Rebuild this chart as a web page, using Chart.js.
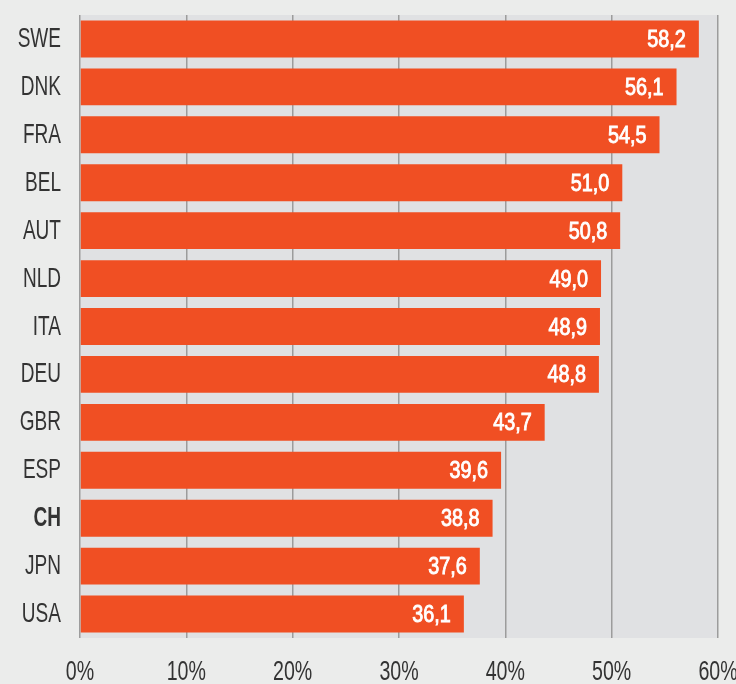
<!DOCTYPE html>
<html>
<head>
<meta charset="utf-8">
<script src="https://cdn.jsdelivr.net/npm/chart.js@4"></script>
<style>
  html, body { margin: 0; padding: 0; background: #ebeceb; overflow: hidden; }
  #wrap { width: 736px; height: 684px; }
</style>
</head>
<body>
<div id="wrap"><canvas id="chart"></canvas></div>
<script>
// country codes and share values (%)
const countries = ['SWE', 'DNK', 'FRA', 'BEL', 'AUT', 'NLD', 'ITA', 'DEU', 'GBR', 'ESP', 'CH', 'JPN', 'USA'];
const values = [58.2, 56.1, 54.5, 51.0, 50.8, 49.0, 48.9, 48.8, 43.7, 39.6, 38.8, 37.6, 36.1];
const xTicks = [0, 10, 20, 30, 40, 50, 60];

const fontFam = "'Liberation Sans', Arial, sans-serif";

// condensed text: squeeze horizontally around the anchor point
function narrowText(ctx, txt, x, y, sx, stroke) {
    ctx.save();
    ctx.translate(x, y);
    ctx.scale(sx, 1);
    ctx.fillText(txt, 0, 0);
    if (stroke) ctx.strokeText(txt, 0, 0);
    ctx.restore();
}

// light grey plot background
const plotBg = {
    id: 'plotBg',
    beforeDraw(chart) {
        const {ctx, chartArea: a} = chart;
        ctx.save();
        ctx.fillStyle = '#e0e1e3';
        ctx.fillRect(a.left, a.top, a.right - a.left, a.bottom - a.top);
        ctx.restore();
    }
};

// axis labels + white value labels, drawn narrow like the original
const labelsPlugin = {
    id: 'labelsPlugin',
    afterDraw(chart) {
        const ctx = chart.ctx;
        const xs = chart.scales.x, ys = chart.scales.y;
        const meta = chart.getDatasetMeta(0);
        ctx.save();
        ctx.textBaseline = 'alphabetic';

        // category labels
        ctx.fillStyle = '#333333';
        ctx.textAlign = 'right';
        countries.forEach((c, i) => {
            ctx.font = (c === 'CH' ? 'bold ' : '') + '28px ' + fontFam;
            narrowText(ctx, c, chart.chartArea.left - 19, ys.getPixelForValue(i) + 8, 0.68);
        });

        // percent ticks
        ctx.textAlign = 'center';
        ctx.font = '28px ' + fontFam;
        xTicks.forEach(v => {
            narrowText(ctx, v + '%', xs.getPixelForValue(v), 680, 0.7);
        });

        // values at bar ends (medium weight: regular + thin stroke)
        ctx.fillStyle = '#ffffff';
        ctx.strokeStyle = '#ffffff';
        ctx.lineWidth = 0.9;
        ctx.textAlign = 'right';
        ctx.font = '23px ' + fontFam;
        meta.data.forEach((bar, i) => {
            const txt = values[i].toFixed(1).replace('.', ',');
            narrowText(ctx, txt, bar.x - 13, bar.y + 8, 0.86, true);
        });
        ctx.restore();
    }
};

new Chart(document.getElementById('chart'), {
    type: 'bar',
    data: {
        labels: countries,
        datasets: [{
            data: values,
            backgroundColor: '#f04f23',
            borderWidth: 0,
            categoryPercentage: 1,
            barPercentage: 0.77
        }]
    },
    options: {
        indexAxis: 'y',
        responsive: true,
        maintainAspectRatio: false,
        animation: false,
        layout: { padding: { top: 15, right: 18, bottom: 46, left: 80 } },
        plugins: {
            legend: { display: false },
            tooltip: { enabled: false }
        },
        scales: {
            x: {
                min: 0,
                max: 60,
                afterBuildTicks: s => { s.ticks = xTicks.map(v => ({value: v})); },
                grid: { color: '#9c9c9c', lineWidth: 1.5, drawTicks: false },
                border: { display: false },
                ticks: { display: false }
            },
            y: {
                grid: { display: false, drawTicks: false },
                border: { display: false },
                ticks: { display: false }
            }
        }
    },
    plugins: [plotBg, labelsPlugin]
});
</script>
</body>
</html>
